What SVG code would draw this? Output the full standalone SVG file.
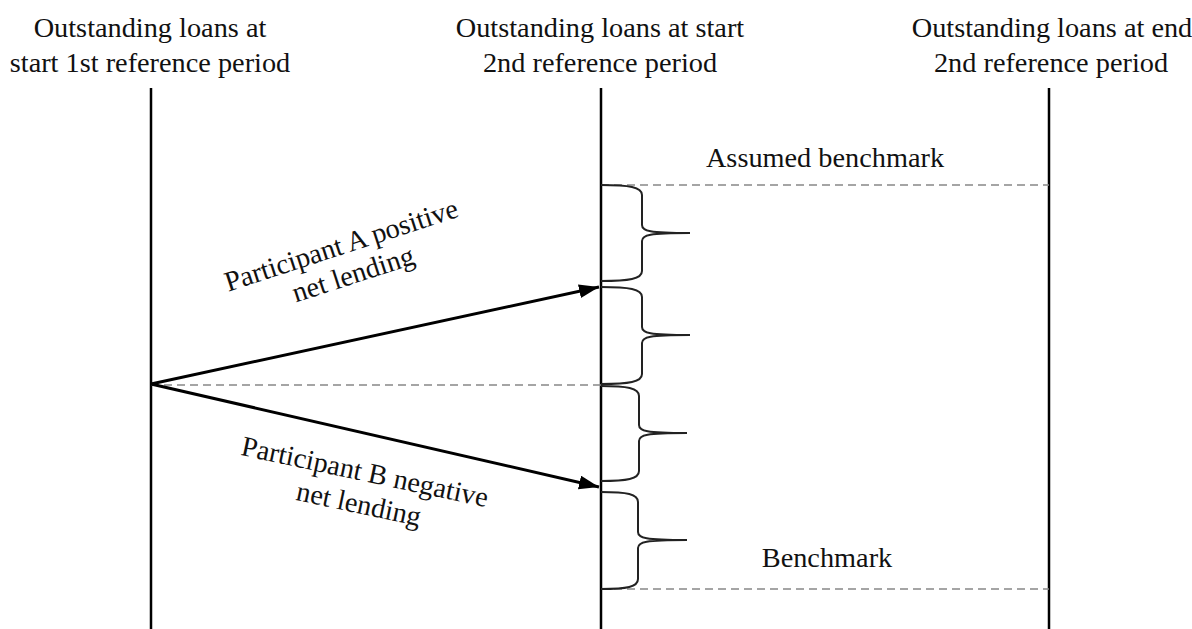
<svg xmlns="http://www.w3.org/2000/svg" width="1192" height="629" viewBox="0 0 1192 629">
<style>
text{font-family:"Liberation Serif","Times New Roman",serif;font-size:28.3px;fill:#111;text-anchor:middle}
.v{stroke:#000;stroke-width:2.5;fill:none}
.d{stroke:#888;stroke-width:1.3;stroke-dasharray:8,5;fill:none}
.a{stroke:#000;stroke-width:3;fill:none;marker-end:url(#ah)}
.b{stroke:#222;stroke-width:2;fill:none}
</style>
<defs>
<marker id="ah" markerUnits="userSpaceOnUse" markerWidth="22" markerHeight="16" refX="20" refY="7" orient="auto">
<path d="M0,0 L20,7 L0,14 Z" fill="#000"/>
</marker>
</defs>
<rect width="1192" height="629" fill="#fff"/>
<g id="col1">
<line class="v" x1="151" y1="88" x2="151" y2="629"/>
<text x="150" y="37">Outstanding loans at</text>
<text x="150" y="72">start 1st reference period</text>
</g>
<g id="col2">
<line class="v" x1="601" y1="88" x2="601" y2="629"/>
<text x="600" y="37">Outstanding loans at start</text>
<text x="600" y="72">2nd reference period</text>
</g>
<g id="col3">
<line class="v" x1="1049" y1="88" x2="1049" y2="629"/>
<text x="1052" y="37">Outstanding loans at end</text>
<text x="1051" y="72">2nd reference period</text>
</g>
<g id="connectors">
<line class="d" x1="601" y1="185" x2="1049" y2="185"/>
<line class="d" x1="151" y1="385" x2="601" y2="385"/>
<line class="d" x1="601" y1="589" x2="1049" y2="589"/>
<line class="a" x1="151" y1="384" x2="599" y2="287"/>
<line class="a" x1="151" y1="384" x2="599" y2="487"/>
</g>
<g id="braces">
<path class="b" d="M601,185 C629,185 642,187 642,195 L642,225 C642,231 649,233 690,233 C649,233 642,235 642,241 L642,271 C642,279 629,281 601,281"/>
<path class="b" d="M601,287 C629,287 642,289 642,297 L642,327 C642,333 649,335 690,335 C649,335 642,337 642,343 L642,374 C642,382 629,384 601,384"/>
<path class="b" d="M601,386 C627,386 639,388 639,396 L639,425 C639,431 646,433 687,433 C646,433 639,435 639,441 L639,471 C639,479 627,481 601,481"/>
<path class="b" d="M601,492 C627,492 638,494 638,502 L638,532 C638,538 645,540 687,540 C645,540 638,542 638,548 L638,579 C638,587 627,589 601,589"/>
</g>
<g id="labelA">
<text transform="translate(344,254) rotate(-18)">Participant A positive</text>
<text transform="translate(356,283) rotate(-18)">net lending</text>
</g>
<g id="labelB">
<text transform="translate(363,481) rotate(12)">Participant B negative</text>
<text transform="translate(357,513) rotate(12)">net lending</text>
</g>
<g id="benchmarks">
<text x="825" y="167">Assumed benchmark</text>
<text x="827" y="567">Benchmark</text>
</g>
</svg>
